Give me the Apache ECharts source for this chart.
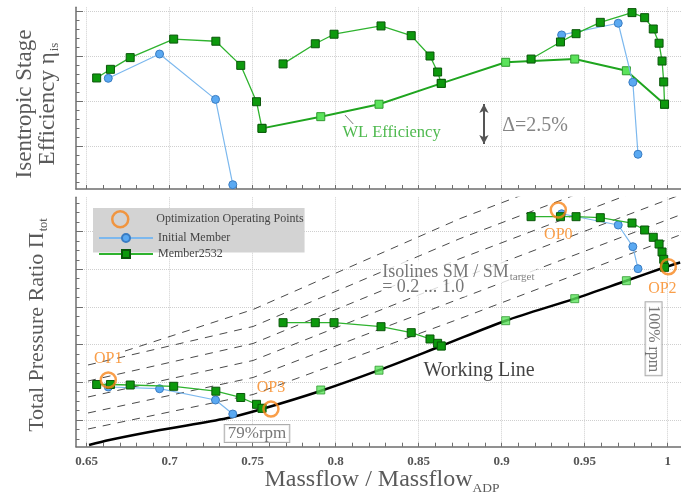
<!DOCTYPE html>
<html><head><meta charset="utf-8">
<script src="https://cdn.jsdelivr.net/npm/echarts@6/dist/echarts.min.js"></script>
<style>html,body{margin:0;padding:0;background:#fff}#c{width:681px;height:493px}</style>
</head><body><div id="c"></div>
<script>
// ---------------- data ----------------
const xTickLabels = [0.65, 0.7, 0.75, 0.8, 0.85, 0.9, 0.95, 1];
const effGridValues = [82.5, 85, 87.5, 90];
const prGridValues = [1.0, 1.1, 1.2, 1.3, 1.4, 1.5];

// Member2532 speed lines
const m79Flow = [0.6560, 0.6643, 0.6762, 0.7024, 0.7278, 0.7428, 0.7523, 0.7556];
const m79Eff  = [86.28, 86.76, 87.41, 88.44, 88.32, 86.98, 84.96, 83.48];
const m79PR   = [1.0942, 1.0942, 1.0928, 1.0894, 1.0764, 1.0597, 1.0416, 1.0310];
const mMidFlow = [0.7683, 0.7877, 0.7990, 0.8273, 0.8455, 0.8568, 0.8614, 0.8636];
const mMidEff  = [87.06, 88.18, 88.71, 89.17, 88.63, 87.50, 86.61, 85.98];
const mMidPR   = [1.2581, 1.2581, 1.2581, 1.2475, 1.2316, 1.2149, 1.2034, 1.1963];
const m100Flow = [0.9177, 0.9354, 0.9448, 0.9594, 0.9785, 0.9861, 0.9913, 0.9948, 0.9966, 0.9976, 0.9981];
const m100Eff  = [87.33, 88.28, 88.74, 89.37, 89.91, 89.63, 89.00, 88.21, 87.22, 86.06, 84.82];
const m100PR   = [1.5393, 1.5393, 1.5393, 1.5366, 1.5225, 1.5040, 1.4846, 1.4668, 1.4456, 1.4263, 1.4050];

// Initial member speed lines
const i79Flow = [0.6630, 0.6939, 0.7276, 0.7380];
const i79Eff  = [86.26, 87.61, 85.09, 80.35];
const i79PR   = [1.0875, 1.0830, 1.0530, 1.0159];
const i100Flow = [0.9361, 0.9702, 0.9790, 0.9821];
const i100Eff  = [88.67, 89.32, 86.04, 82.04];
const i100PR   = [1.5470, 1.5172, 1.4597, 1.4013];

// Working line operating points (WL efficiency)
const wlFlow = [0.7556, 0.7910, 0.8261, 0.8636, 0.9024, 0.9440, 0.9751, 0.9981];
const wlEff  = [83.48, 84.13, 84.82, 85.98, 87.15, 87.33, 86.68, 84.82];
const wlPR   = [1.0310, 1.0796, 1.1321, 1.1963, 1.2634, 1.3218, 1.3695, 1.4058];

// Working line curve
const wlCurveFlow = [0.6514, 0.6636, 0.6942, 0.7343, 0.7556, 0.7908, 0.8261, 0.8636, 0.9024, 0.9440, 0.9751, 0.9979, 1.0075];
const wlCurvePR   = [0.9337, 0.9470, 0.9735, 1.0045, 1.0292, 1.0769, 1.1321, 1.1963, 1.2634, 1.3218, 1.3695, 1.4045, 1.4178];

// Optimization operating points
const opNames = ['OP1', 'OP3', 'OP0', 'OP2'];
const opFlow  = [0.6630, 0.7610, 0.9341, 1.0004];
const opPR    = [1.1060, 1.0290, 1.5570, 1.4066];

// Isolines SM / SM_target
const isoFlow  = [0.6508, 0.7502, 0.8749, 1.0080];
const iso1PR = [0.9761, 1.0676, 1.2690, 1.4918];
const iso2PR = [1.0186, 1.1127, 1.3220, 1.5448];
const iso3PR = [1.0610, 1.1578, 1.3751, 1.5979];
const iso4PR = [1.1034, 1.2029, 1.4281, 1.6509];
const iso5PR = [1.1459, 1.2480, 1.4812, 1.7040];
const iso6Flow = [0.6731, 0.7502, 0.8749, 1.0080];
const iso6PR = [1.1830, 1.2931, 1.5342, 1.7570];

// ---------------- styling ----------------
const FONT = '"Liberation Serif", "Times New Roman", serif';
const AX = '#6e6e6e', GRIDC = '#cfcfcf';
const G = '#0d990d', GB = '#0a560a', GL = '#2fb32f';
const LG = '#5be35b', LGB = '#2f9a2f', WLC = '#1fa51f';
const B = '#5aa9f2', BB = '#3a7cc2', BL = '#7cb8ee';
const OR = '#f7861c';

const XMIN = 0.65 - 10.7 / 1660, XMAX = 0.65 + (681 - 86.7) / 1660;
const EMIN = 90 - 178 / 18, EMAX = 90 + 3.7 / 18;
const PMIN = 1 - 26.7 / 377, PMAX = 1 + 222.7 / 377;

function steps(a, b, s) { const r = []; for (let v = a; v <= b + 1e-9; v += s) r.push(+v.toFixed(4)); return r; }
const xMinorTicks = steps(0.65, 1.0, 0.01);
const effMinorTicks = steps(80.5, 90, 0.5);
const prMinorTicks = steps(0.95, 1.575, 0.025);
const zip = (a, b) => a.map((v, i) => [v, b[i]]);

function xAxes(grid, labels) {
  return [
    { gridIndex: grid, type: 'value', min: XMIN, max: XMAX, position: 'bottom',
      axisLine: { show: true, onZero: false, lineStyle: { color: AX, width: 1.5 } },
      axisTick: { show: true, inside: true, length: 4, customValues: xMinorTicks, lineStyle: { color: AX } },
      axisLabel: labels ? { show: true, customValues: xTickLabels, formatter: v => String(+(+v).toFixed(2)),
        fontFamily: FONT, fontWeight: 'bold', fontSize: 13, color: '#555', margin: 8 } : { show: false },
      splitLine: { show: false } },
    { gridIndex: grid, type: 'value', min: XMIN, max: XMAX, position: 'bottom',
      axisLine: { show: false }, axisTick: { show: false, customValues: xTickLabels }, axisLabel: { show: false },
      splitLine: { show: true, lineStyle: { color: GRIDC, type: 'dotted', width: 1 } } }
  ];
}
function yAxes(grid, min, max, majors, minors) {
  return [
    { gridIndex: grid, type: 'value', min, max, position: 'left',
      axisLine: { show: true, onZero: false, lineStyle: { color: AX, width: 1.5 } },
      axisTick: { show: true, inside: true, length: 7, customValues: majors, lineStyle: { color: AX } },
      axisLabel: { show: false },
      splitLine: { show: true, lineStyle: { color: GRIDC, type: 'dotted', width: 1 } } },
    { gridIndex: grid, type: 'value', min, max, position: 'left',
      axisLine: { show: false },
      axisTick: { show: true, inside: true, length: 3.5, customValues: minors, lineStyle: { color: AX } },
      axisLabel: { show: false }, splitLine: { show: false } }
  ];
}

function speedLine(name, data, xi, yi, member) {
  return member ?
    { type: 'line', name, xAxisIndex: xi, yAxisIndex: yi, data, symbol: 'rect', symbolSize: 8,
      itemStyle: { color: G, borderColor: GB, borderWidth: 1 }, lineStyle: { color: GL, width: 1.3 }, z: 5 } :
    { type: 'line', name, xAxisIndex: xi, yAxisIndex: yi, data, symbol: 'circle', symbolSize: 8,
      itemStyle: { color: B, borderColor: BB, borderWidth: 1 }, lineStyle: { color: BL, width: 1.2 }, z: 4 };
}
function isoLine(data) {
  return { type: 'line', xAxisIndex: 2, yAxisIndex: 2, data, symbol: 'none', silent: true, z: 1,
    lineStyle: { color: '#4a4a4a', width: 1, type: [8, 7] } };
}
function note(value, text, extra) {
  return { value, label: Object.assign({ show: true, formatter: text, position: [0, 0], align: 'left',
    verticalAlign: 'middle', fontFamily: FONT }, extra) };
}

const opLabelCfg = {
  OP1: { position: 'top', distance: 4 },
  OP3: { position: 'top', distance: 5 },
  OP0: { position: 'bottom', distance: 8 },
  OP2: { position: 'bottom', distance: 5, offset: [-6, 0] }
};

const option = {
  animation: false,
  backgroundColor: '#fff',
  grid: [
    { left: 76, right: 0, top: 7.3, height: 181.7, outerBoundsMode: 'none' },
    { left: 76, right: 0, top: 197.3, height: 249.4, outerBoundsMode: 'none' }
  ],
  xAxis: [...xAxes(0, false), ...xAxes(1, true)],
  yAxis: [...yAxes(0, EMIN, EMAX, effGridValues, effMinorTicks), ...yAxes(1, PMIN, PMAX, prGridValues, prMinorTicks)],
  legend: [
    { data: [{ name: 'Optimization Operating Points', icon: 'circle',
        itemStyle: { color: 'rgba(0,0,0,0)', borderColor: OR, borderWidth: 2.5 } }],
      left: 93, top: 208, orient: 'vertical', itemWidth: 54, itemHeight: 16, selectedMode: false,
      backgroundColor: '#d3d3d3', padding: [2, 1, 24, 18],
      textStyle: { fontFamily: FONT, fontSize: 12, color: '#444', padding: [0, 0, 0, 4] } },
    { data: ['Initial Member', 'Member2532'], left: 93, top: 227, orient: 'vertical',
      itemWidth: 54, itemHeight: 10, itemGap: 4, selectedMode: false,
      textStyle: { fontFamily: FONT, fontSize: 12, color: '#444', padding: [0, 0, 0, 0] } }
  ],
  graphic: [
    { type: 'text', x: 25, y: 104, rotation: Math.PI / 2, silent: true,
      style: { text: 'Isentropic Stage', fontFamily: FONT, fontSize: 23, fill: '#5a5a5a', align: 'center', verticalAlign: 'middle' } },
    { type: 'text', x: 48, y: 104, rotation: Math.PI / 2, silent: true,
      style: { text: '{m|Efficiency η}{s|is}', align: 'center', verticalAlign: 'middle',
        rich: { m: { fontFamily: FONT, fontSize: 23, fill: '#5a5a5a', lineHeight: 26 },
                s: { fontFamily: FONT, fontSize: 13, fill: '#5a5a5a', verticalAlign: 'top', padding: [14, 0, 0, 1] } } } },
    { type: 'text', x: 37, y: 325, rotation: Math.PI / 2, silent: true,
      style: { text: '{m|Total Pressure Ratio Π}{s|tot}', align: 'center', verticalAlign: 'middle',
        rich: { m: { fontFamily: FONT, fontSize: 22, fill: '#5a5a5a', lineHeight: 25 },
                s: { fontFamily: FONT, fontSize: 12.5, fill: '#5a5a5a', verticalAlign: 'top', padding: [14, 0, 0, 1] } } } },
    { type: 'text', x: 382, y: 480, silent: true,
      style: { text: '{m|Massflow / Massflow}{s|ADP}', align: 'center', verticalAlign: 'middle',
        rich: { m: { fontFamily: FONT, fontSize: 24, fill: '#5a5a5a', lineHeight: 26 },
                s: { fontFamily: FONT, fontSize: 13.5, fill: '#5a5a5a', verticalAlign: 'top', padding: [16, 0, 0, 0] } } } }
  ],
  series: [
    // ---- top panel: efficiency ----
    { type: 'line', name: 'WL Efficiency', xAxisIndex: 0, yAxisIndex: 0, data: zip(wlFlow, wlEff),
      symbol: 'rect', symbolSize: 8, itemStyle: { color: LG, borderColor: LGB, borderWidth: 1 },
      lineStyle: { color: WLC, width: 2 }, z: 3,
      markLine: { silent: true, animation: false, label: { show: false },
        symbol: ['none', 'none'],
        lineStyle: { color: '#555', width: 0.8, type: 'solid' },
        data: [[{ coord: [0.8056, 84.22] }, { coord: [0.8106, 83.72] }]] } },
    speedLine('Initial Member', zip(i79Flow, i79Eff), 0, 0, false),
    speedLine('Initial Member', zip(i100Flow, i100Eff), 0, 0, false),
    speedLine('Member2532', zip(m79Flow, m79Eff), 0, 0, true),
    speedLine('Member2532', zip(mMidFlow, mMidEff), 0, 0, true),
    Object.assign(speedLine('Member2532', zip(m100Flow, m100Eff), 0, 0, true), {
      markLine: { silent: true, animation: false, label: { show: false },
        symbol: ['arrow', 'arrow'], symbolSize: [7, 9],
        lineStyle: { color: '#555', width: 2, type: 'solid' },
        data: [[{ coord: [0.8893, 84.83] }, { coord: [0.8893, 82.61] }]] } }),
    { type: 'scatter', xAxisIndex: 0, yAxisIndex: 0, symbolSize: 1, silent: true, z: 8,
      itemStyle: { color: 'rgba(0,0,0,0)' },
      data: [
        note([0.8044, 83.21], 'WL Efficiency', { fontSize: 16.5, color: '#22a822' }),
        note([0.9006, 83.61], 'Δ=2.5%', { fontSize: 20, color: '#666' })
      ] },
    // ---- bottom panel: pressure ratio ----
    isoLine(zip(isoFlow, iso1PR)),
    isoLine(zip(isoFlow, iso2PR)),
    isoLine(zip(isoFlow, iso3PR)),
    isoLine(zip(isoFlow, iso4PR)),
    isoLine(zip(isoFlow, iso5PR)),
    isoLine(zip(iso6Flow, iso6PR)),
    { type: 'line', name: 'Working Line', xAxisIndex: 2, yAxisIndex: 2, data: zip(wlCurveFlow, wlCurvePR),
      symbol: 'none', smooth: 0.3, lineStyle: { color: '#000', width: 2.5 }, z: 2, silent: true },
    { type: 'scatter', name: 'WL Points', xAxisIndex: 2, yAxisIndex: 2, data: zip(wlFlow, wlPR),
      symbol: 'rect', symbolSize: 8, itemStyle: { color: LG, borderColor: LGB, borderWidth: 1 }, z: 3 },
    speedLine('Initial Member', zip(i79Flow, i79PR), 2, 2, false),
    speedLine('Initial Member', zip(i100Flow, i100PR), 2, 2, false),
    speedLine('Member2532', zip(m79Flow, m79PR), 2, 2, true),
    speedLine('Member2532', zip(mMidFlow, mMidPR), 2, 2, true),
    speedLine('Member2532', zip(m100Flow, m100PR), 2, 2, true),
    { type: 'scatter', name: 'Optimization Operating Points', xAxisIndex: 2, yAxisIndex: 2, z: 7,
      symbol: 'circle', symbolSize: 15,
      itemStyle: { color: 'rgba(0,0,0,0)', borderColor: OR, borderWidth: 2.5 },
      data: opNames.map((n, i) => ({ name: n, value: [opFlow[i], opPR[i]],
        label: Object.assign({ show: true, formatter: n, fontFamily: FONT, fontSize: 16, color: OR }, opLabelCfg[n]) })) },
    { type: 'scatter', xAxisIndex: 2, yAxisIndex: 2, symbolSize: 1, silent: true, z: 8,
      itemStyle: { color: 'rgba(0,0,0,0)' },
      data: [
        note([0.8532, 1.1281], 'Working Line', { fontSize: 20, color: '#111' }),
        note([0.8283, 1.3913], '{a|Isolines SM / SM}{s|target}', { backgroundColor: '#fff', padding: [0, 2, 0, 0],
          rich: { a: { fontFamily: FONT, fontSize: 18, color: '#555', lineHeight: 20 },
                  s: { fontFamily: FONT, fontSize: 11, color: '#666', verticalAlign: 'top', padding: [11, 0, 0, 1] } } }),
        note([0.8283, 1.3501], '= 0.2 ... 1.0', { fontSize: 18, color: '#555', backgroundColor: '#fff', padding: [0, 2, 0, 0] }),
        note([0.7529, 0.9629], '79%rpm', { align: 'center', fontSize: 17, color: '#555', backgroundColor: '#fff',
          borderColor: '#999', borderWidth: 1, padding: [0, 3, 0, 3] }),
        note([0.9918, 1.2143], '100% rpm', { align: 'center', rotate: -90, fontSize: 16, color: '#555',
          backgroundColor: '#fff', borderColor: '#999', borderWidth: 1, padding: [0, 3, 0, 3] })
      ] }
  ]
};

const chart = echarts.init(document.getElementById('c'), null, { renderer: 'canvas', width: 681, height: 493 });
chart.setOption(option);
</script>
</body></html>
